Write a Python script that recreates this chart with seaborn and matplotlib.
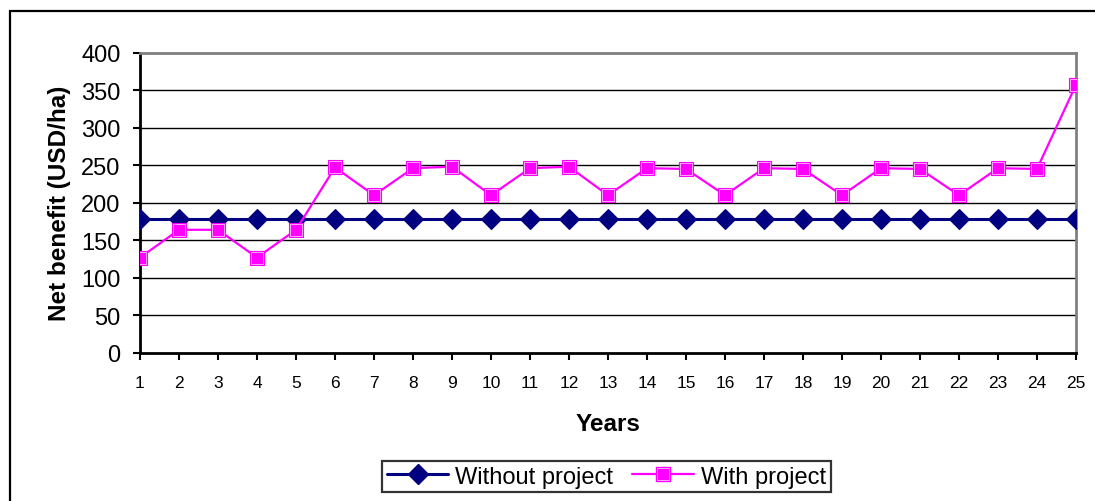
import matplotlib
matplotlib.use("Agg")
import matplotlib.pyplot as plt
from matplotlib.patches import Rectangle
from matplotlib.lines import Line2D
import seaborn as sns
import pandas as pd

# Net benefit per hectare over the project horizon
years = list(range(1, 26))
without_project = [178] * 25
with_project = [127, 164, 164, 127, 164, 247, 210, 246, 248, 210,
                246, 248, 210, 246, 245, 210, 246, 245, 210, 246,
                245, 210, 246, 245, 357]
series_names = ["Without project", "With project"]
y_ticks = list(range(0, 401, 50))

df = pd.DataFrame({
    "Years": years * 2,
    "Net benefit": without_project + with_project,
    "Series": [series_names[0]] * 25 + [series_names[1]] * 25,
})

sns.set_theme(style="white")
plt.rcParams["font.family"] = ["Liberation Sans", "DejaVu Sans"]
plt.rcParams["text.color"] = "black"
plt.rcParams["axes.labelcolor"] = "black"
plt.rcParams["xtick.color"] = "black"
plt.rcParams["ytick.color"] = "black"

W, H = 1095, 502
fig = plt.figure(figsize=(W / 100, H / 100), dpi=100)
fig.patch.set_facecolor("white")

# outer chart frame
fig.add_artist(Rectangle((10 / W, -0.2), 1.5, 1.2 - 12 / H,
                         transform=fig.transFigure, fill=False,
                         edgecolor="black", linewidth=1.6, clip_on=False))

ax = fig.add_axes([140 / W, (H - 354) / H, (1076 - 140) / W, (354 - 53.5) / H])

palette = {"Without project": "#000080", "With project": "#FF00FF"}
sns.lineplot(data=df, x="Years", y="Net benefit", hue="Series",
             style="Series", markers={"Without project": "D", "With project": "s"},
             dashes=False, palette=palette, ax=ax, legend=False,
             markersize=10, markeredgewidth=0.8)
for ln, lw in zip(ax.lines, [2.2, 1.6]):
    ln.set_linewidth(lw)
    ln.set_markeredgecolor(ln.get_color())
ax.lines[0].set_markersize(10.5)
ax.lines[1].set_markersize(9.8)

# thin inner highlight on the square markers
ax.plot(years, with_project, linestyle="none", marker="s", markersize=8.0,
        markerfacecolor="none", markeredgecolor="white", markeredgewidth=0.45,
        zorder=5)

ax.set_xlim(1, 25)
ax.set_ylim(0, 400)
ax.set_xticks(years)
ax.set_xticklabels([str(y) for y in years], fontsize=12.5)
ax.set_yticks(y_ticks)
ax.set_yticklabels([str(v) for v in y_ticks], fontsize=17)
ax.tick_params(axis="x", direction="out", length=5, width=1.5, color="black",
               bottom=True, pad=11, labelcolor="black")
ax.tick_params(axis="y", direction="out", length=5, width=1.5, color="black",
               left=True, pad=9, labelcolor="black")

for v in y_ticks[1:-1]:
    ax.axhline(v, color="black", linewidth=1.0, zorder=0)

ax.spines["left"].set_color("black")
ax.spines["left"].set_linewidth(2)
ax.spines["bottom"].set_color("black")
ax.spines["bottom"].set_linewidth(2)
ax.spines["top"].set_color("#808080")
ax.spines["top"].set_linewidth(2)
ax.spines["right"].set_color("#808080")
ax.spines["right"].set_linewidth(2)
for sp in ax.spines.values():
    sp.set_zorder(1)

ax.set_xlabel("Years", fontsize=17.5, fontweight="bold", labelpad=16,
              color="black")
ax.set_ylabel("Net benefit (USD/ha)", fontsize=17.5, fontweight="bold",
              labelpad=7, color="black")

handles = [
    Line2D([], [], color="#000080", linewidth=2.2, marker="D", markersize=10,
           markeredgecolor="#000080"),
    (Line2D([], [], color="#FF00FF", linewidth=1.6, marker="s", markersize=9.8,
            markeredgecolor="#FF00FF"),
     Line2D([], [], linestyle="none", marker="s", markersize=8.0,
            markerfacecolor="none", markeredgecolor="white", markeredgewidth=0.45)),
]
leg = fig.legend(handles, series_names, loc="upper center",
                 bbox_to_anchor=(606.5 / W, 1 - 462 / H), ncol=2, fontsize=17,
                 frameon=True, fancybox=False, edgecolor="black",
                 handlelength=2.6, handletextpad=0.3, columnspacing=0.8,
                 borderpad=0.2, borderaxespad=0)
leg.get_frame().set_linewidth(1.6)
for t in leg.get_texts():
    t.set_color("black")

fig.savefig("out.png", dpi=100, facecolor="white")
